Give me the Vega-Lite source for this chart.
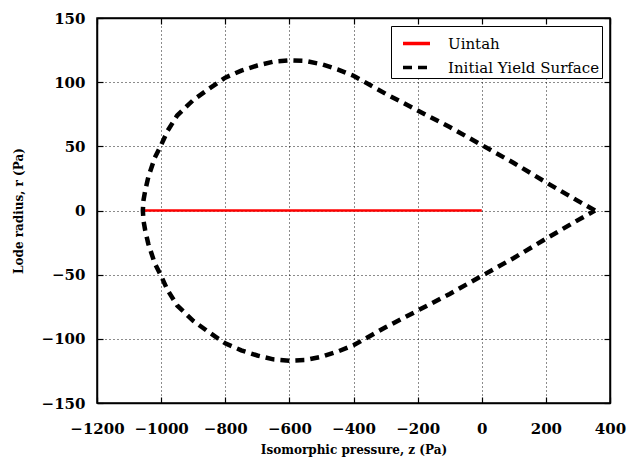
{
  "$schema": "https://vega.github.io/schema/vega-lite/v6.json",
  "width": 513,
  "height": 385,
  "autosize": "none",
  "padding": {"left": 97, "top": 18, "right": 19, "bottom": 60},
  "background": "white",
  "config": {
    "view": {"stroke": "black", "strokeWidth": 1.5},
    "axis": {
      "domainColor": "black", "domainWidth": 1.5,
      "tickColor": "black", "tickWidth": 1.2, "tickSize": -6,
      "labelFont": "DejaVu Serif", "labelFontWeight": "bold", "labelFontSize": 15, "labelColor": "black",
      "labelOverlap": false, "labelFlush": false, "format": "d",
      "titleFont": "DejaVu Serif", "titleFontWeight": "bold", "titleFontSize": 12, "titleColor": "black",
      "grid": true, "gridColor": "black", "gridDash": [1, 3], "gridWidth": 1, "gridOpacity": 0.9
    },
    "legend": {
      "labelFont": "DejaVu Serif", "labelFontSize": 15, "labelColor": "black"
    }
  },
  "datasets": {
    "uintah": [
      {"z": -1057, "r": 0, "series": "Uintah", "i": 0},
      {"z": 0, "r": 0, "series": "Uintah", "i": 1}
    ],
    "yield": [
      {"z": 353, "r": 0, "series": "Initial Yield Surface", "i": 0},
      {"z": 300, "r": 7.5, "series": "Initial Yield Surface", "i": 1},
      {"z": 200, "r": 22, "series": "Initial Yield Surface", "i": 2},
      {"z": 100, "r": 37, "series": "Initial Yield Surface", "i": 3},
      {"z": 0, "r": 51, "series": "Initial Yield Surface", "i": 4},
      {"z": -100, "r": 65, "series": "Initial Yield Surface", "i": 5},
      {"z": -200, "r": 78, "series": "Initial Yield Surface", "i": 6},
      {"z": -300, "r": 91, "series": "Initial Yield Surface", "i": 7},
      {"z": -400, "r": 105, "series": "Initial Yield Surface", "i": 8},
      {"z": -450, "r": 110, "series": "Initial Yield Surface", "i": 9},
      {"z": -500, "r": 114, "series": "Initial Yield Surface", "i": 10},
      {"z": -550, "r": 116.5, "series": "Initial Yield Surface", "i": 11},
      {"z": -600, "r": 117, "series": "Initial Yield Surface", "i": 12},
      {"z": -650, "r": 116, "series": "Initial Yield Surface", "i": 13},
      {"z": -700, "r": 113, "series": "Initial Yield Surface", "i": 14},
      {"z": -750, "r": 109, "series": "Initial Yield Surface", "i": 15},
      {"z": -800, "r": 103.5, "series": "Initial Yield Surface", "i": 16},
      {"z": -850, "r": 95, "series": "Initial Yield Surface", "i": 17},
      {"z": -900, "r": 86, "series": "Initial Yield Surface", "i": 18},
      {"z": -950, "r": 74, "series": "Initial Yield Surface", "i": 19},
      {"z": -980, "r": 62, "series": "Initial Yield Surface", "i": 20},
      {"z": -1000, "r": 51, "series": "Initial Yield Surface", "i": 21},
      {"z": -1020, "r": 41, "series": "Initial Yield Surface", "i": 22},
      {"z": -1040, "r": 26, "series": "Initial Yield Surface", "i": 23},
      {"z": -1050, "r": 15, "series": "Initial Yield Surface", "i": 24},
      {"z": -1055, "r": 8, "series": "Initial Yield Surface", "i": 25},
      {"z": -1057, "r": 0, "series": "Initial Yield Surface", "i": 26},
      {"z": -1055, "r": -8, "series": "Initial Yield Surface", "i": 27},
      {"z": -1050, "r": -15, "series": "Initial Yield Surface", "i": 28},
      {"z": -1040, "r": -26, "series": "Initial Yield Surface", "i": 29},
      {"z": -1020, "r": -41, "series": "Initial Yield Surface", "i": 30},
      {"z": -1000, "r": -51, "series": "Initial Yield Surface", "i": 31},
      {"z": -980, "r": -62, "series": "Initial Yield Surface", "i": 32},
      {"z": -950, "r": -74, "series": "Initial Yield Surface", "i": 33},
      {"z": -900, "r": -86, "series": "Initial Yield Surface", "i": 34},
      {"z": -850, "r": -95, "series": "Initial Yield Surface", "i": 35},
      {"z": -800, "r": -103.5, "series": "Initial Yield Surface", "i": 36},
      {"z": -750, "r": -109, "series": "Initial Yield Surface", "i": 37},
      {"z": -700, "r": -113, "series": "Initial Yield Surface", "i": 38},
      {"z": -650, "r": -116, "series": "Initial Yield Surface", "i": 39},
      {"z": -600, "r": -117, "series": "Initial Yield Surface", "i": 40},
      {"z": -550, "r": -116.5, "series": "Initial Yield Surface", "i": 41},
      {"z": -500, "r": -114, "series": "Initial Yield Surface", "i": 42},
      {"z": -450, "r": -110, "series": "Initial Yield Surface", "i": 43},
      {"z": -400, "r": -105, "series": "Initial Yield Surface", "i": 44},
      {"z": -300, "r": -91, "series": "Initial Yield Surface", "i": 45},
      {"z": -200, "r": -78, "series": "Initial Yield Surface", "i": 46},
      {"z": -100, "r": -65, "series": "Initial Yield Surface", "i": 47},
      {"z": 0, "r": -51, "series": "Initial Yield Surface", "i": 48},
      {"z": 100, "r": -37, "series": "Initial Yield Surface", "i": 49},
      {"z": 200, "r": -22, "series": "Initial Yield Surface", "i": 50},
      {"z": 300, "r": -7.5, "series": "Initial Yield Surface", "i": 51},
      {"z": 353, "r": 0, "series": "Initial Yield Surface", "i": 52}
    ]
  },
  "layer": [
    {
      "data": {"name": "uintah"},
      "mark": {"type": "line", "strokeWidth": 2.5},
      "encoding": {
        "x": {"field": "z", "type": "quantitative", "scale": {"domain": [-1200, 400], "nice": false, "zero": false},
              "axis": {"title": "Isomorphic pressure, z (Pa)", "values": [-1200, -1000, -800, -600, -400, -200, 0, 200, 400], "labelPadding": 24, "titlePadding": 8}},
        "y": {"field": "r", "type": "quantitative", "scale": {"domain": [-150, 150], "nice": false, "zero": false},
              "axis": {"title": "Lode radius, r (Pa)", "values": [-150, -100, -50, 0, 50, 100, 150], "labelPadding": 18, "titlePadding": 16}},
        "order": {"field": "i", "type": "quantitative"},
        "color": {"field": "series", "type": "nominal",
                  "scale": {"domain": ["Uintah", "Initial Yield Surface"], "range": ["#ff0000", "black"]},
                  "legend": {"title": null, "orient": "top-right", "offset": 8, "strokeColor": "black", "fillColor": "white",
                             "padding": 2, "symbolOffset": 8, "symbolType": "stroke", "symbolSize": 729, "symbolStrokeWidth": 3.5, "rowPadding": 0, "labelOffset": 16,
                             "labelFont": "DejaVu Serif", "labelFontSize": 15}},
        "strokeDash": {"field": "series", "type": "nominal",
                       "scale": {"domain": ["Uintah", "Initial Yield Surface"], "range": [[1, 0], [9, 6]]},
                       "legend": {"title": null, "orient": "top-right", "offset": 8, "strokeColor": "black", "fillColor": "white",
                                  "padding": 2, "symbolOffset": 8, "symbolType": "stroke", "symbolSize": 729, "symbolStrokeWidth": 3.5, "rowPadding": 0, "labelOffset": 16,
                                  "labelFont": "DejaVu Serif", "labelFontSize": 15}}
      }
    },
    {
      "data": {"name": "yield"},
      "mark": {"type": "line", "strokeWidth": 4.5},
      "encoding": {
        "x": {"field": "z", "type": "quantitative", "axis": null},
        "y": {"field": "r", "type": "quantitative", "axis": null},
        "order": {"field": "i", "type": "quantitative"},
        "color": {"field": "series", "type": "nominal"},
        "strokeDash": {"field": "series", "type": "nominal"}
      }
    },
    {
      "data": {"name": "uintah"},
      "mark": {"type": "line", "opacity": 0},
      "encoding": {
        "x": {"field": "z", "type": "quantitative",
              "axis": {"orient": "top", "labels": false, "title": null, "grid": false, "values": [-1200, -1000, -800, -600, -400, -200, 0, 200, 400]}},
        "y": {"field": "r", "type": "quantitative",
              "axis": {"orient": "right", "labels": false, "title": null, "grid": false, "values": [-150, -100, -50, 0, 50, 100, 150]}}
      }
    }
  ],
  "resolve": {"axis": {"x": "independent", "y": "independent"}}
}
